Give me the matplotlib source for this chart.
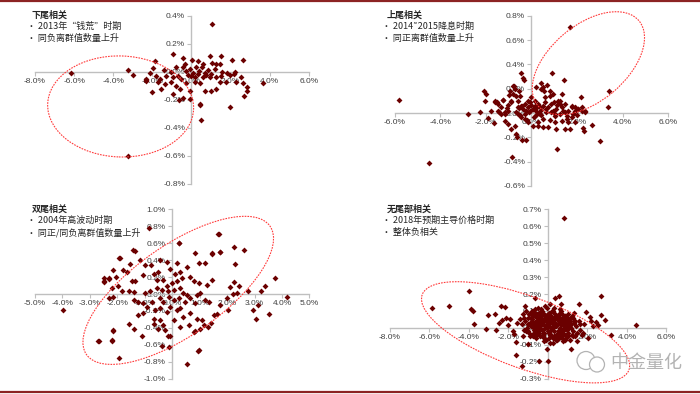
import matplotlib
matplotlib.use("Agg")
import matplotlib.pyplot as plt
import numpy as np
from matplotlib.patches import Ellipse, Circle
from matplotlib.lines import Line2D
from matplotlib.transforms import ScaledTranslation

plt.rcParams['font.family'] = ['Noto Sans CJK SC', 'DejaVu Sans']

# ---- data (daily returns, %) ----
# lower tail: 2013 "money crunch"
lower_x = [1.07, -6.17, -3.23, -3.0, -3.23, -2.33, -0.94, -0.43, -1.87, -0.34, 0.05, 0.34, 0.6, 0.94,
           1.07, 1.53, 1.45, 2.09, 2.64, 1.28, -1.96, -1.41, -1.02, -0.77, -0.43, -0.26, -0.09, 0.09,
           0.22, 0.39, 0.56, 0.68, 0.85, 1.02, 1.19, 1.58, 1.82, 2.21, -2.13, -2.3, -1.79, -1.62,
           -1.28, -0.94, -0.68, -0.51, -0.17, 0.0, 0.17, 0.34, 0.6, 0.77, 0.94, 1.28, 1.53, 1.99,
           2.18, 2.55, -2.33, -1.7, -1.53, -1.36, -1.02, -0.8, -0.6, -0.26, -0.09, 0.17, 0.43, 0.68,
           1.02, 1.28, 1.45, 1.75, 2.3, 2.64, 2.84, 2.84, -1.99, -0.94, -0.63, -0.43, -0.09, 0.43,
           2.67, 0.46, 2.0, 0.48, 3.66]
lower_y = [0.344, -0.01, 0.015, -0.02, -0.60, -0.055, 0.126, 0.102, 0.074, 0.055, 0.083, 0.078, 0.055, 0.114,
           0.066, 0.114, 0.055, 0.083, 0.083, 0.055, 0.026, 0.012, 0.0, 0.031, 0.031, 0.007, 0.019, -0.005,
           0.036, 0.007, 0.031, -0.005, 0.012, -0.012, 0.019, 0.002, -0.005, 0.0, -0.005, -0.052, -0.028, -0.052,
           -0.028, -0.04, -0.028, -0.052, -0.021, -0.028, -0.04, -0.017, -0.036, -0.021, -0.04, -0.036, -0.028, -0.021,
           -0.012, -0.036, -0.064, -0.071, -0.119, -0.088, -0.069, -0.10, -0.119, -0.083, -0.135, -0.069, -0.083, -0.135,
           -0.135, -0.123, -0.069, -0.071, -0.076, -0.083, -0.111, -0.135, -0.142, -0.159, -0.20, -0.187, -0.195, -0.23,
           -0.171, -0.235, -0.249, -0.342, -0.077]

# upper tail: 2014~2015 rate cuts
upper_x = [-5.81, -4.51, -2.78, -2.27, -2.08, -2.0, -2.05, -1.90, -1.64, -1.58, -1.51, -1.42, -1.35, -1.24,
           -1.17, -1.08, -1.0, -0.94, -0.88, -0.81, -0.73, -0.91, -0.85, -0.69, -0.63, -0.44, -0.37, -0.32,
           -0.56, -0.51, -0.40, -0.26, -0.19, -0.51, -0.66, -0.59, -0.40, -0.26, -0.15, -0.04, 0.07, 0.15,
           0.22, 0.29, 0.37, 0.44, 0.51, 0.54, 0.61, 0.70, 0.81, 0.92, 0.98, 1.05, 1.14, 1.14, 1.24, 1.32,
           1.43, 1.46, 1.54, 1.68, 1.71, 1.80, 1.90, 2.05, 2.17, 2.20, 2.34, 2.27, 2.31, 2.02, 2.66, 3.02,
           3.37, 3.41, -1.58, -1.46, -1.24, -1.02, -0.88, -0.81, -0.76, -0.66, -0.59, -0.44, -0.37, -0.29,
           -0.22, -0.15, -0.07, 0.0, 0.07, 0.15, 0.22, 0.29, 0.37, 0.44, 0.51, 0.59, 0.66, 0.73, 0.81, 0.88,
           0.95, 1.02, 1.10, 1.17, 1.24, 1.32, 1.39, 1.46, 1.54, 1.61, 1.76, 1.83, 1.90, 2.05, 2.20, 2.34,
           -1.49, -1.32, -1.17, -1.02, -1.76, -0.59, -0.44, -0.29, -0.15, 0.07, 0.29, 0.51, 0.81, 1.02,
           1.32, 1.61, 1.76, 1.90, 1.46, 1.10, 0.73, 0.51, -0.73, -1.02, -1.17, 1.24, 0.95, 0.44, 0.22,
           -0.10, 0.12, 0.35, -0.30, 0.62, 0.85, -0.55, 0.40, 0.18, -0.05]
upper_y = [0.11, -0.41, -0.01, 0.005, 0.18, 0.16, 0.10, -0.04, -0.08, 0.10, 0.09, 0.005, 0.05, 0.11,
           -0.01, 0.04, 0.15, 0.18, 0.10, 0.22, 0.20, -0.13, -0.36, -0.17, -0.20, 0.33, 0.29, 0.27,
           0.18, 0.14, -0.22, -0.22, -0.06, -0.02, 0.01, 0.05, 0.06, 0.02, 0.10, 0.07, 0.03, 0.10,
           -0.02, -0.11, 0.05, 0.25, 0.21, 0.18, 0.13, 0.23, 0.18, 0.33, 0.09, -0.01, 0.07, -0.30, 0.10, 0.16,
           0.27, 0.005, -0.05, -0.13, 0.71, 0.06, 0.05, 0.03, 0.13, 0.05, 0.02, -0.12, -0.15, -0.02, -0.10, -0.23,
           0.05, 0.18, 0.088, 0.074, 0.107, 0.068, 0.088, 0.156, 0.225, 0.142, 0.101, 0.06, 0.033, 0.074,
           0.019, 0.047, 0.088, 0.129, 0.033, 0.06, 0.019, 0.074, -0.008, 0.025, 0.06, 0.088, 0.005, 0.047, 0.142, 0.074,
           0.019, -0.022, 0.033, 0.101, -0.008, 0.047, 0.019, 0.074, -0.022, 0.019, 0.047, -0.008, 0.019, 0.033, 0.019, 0.005,
           0.019, -0.008, 0.005, 0.019, 0.019, -0.008, -0.036, -0.049, -0.077, -0.104, -0.077, -0.049, -0.058, -0.077,
           -0.063, -0.077, -0.036, -0.077, -0.132, -0.132, -0.118, -0.118, -0.104, -0.09, -0.063, 0.074, 0.156, 0.197, 0.211,
           0.01, -0.03, 0.0, -0.01, 0.03, 0.01, 0.04, -0.02, 0.04, 0.02]

# both tails: 2004 high volatility
both_x = [0.23, 1.69, -1.37, -1.90, -1.53, -1.19, -0.99, -0.78, -0.44, -0.19, 0.17, 0.84, 1.45, 1.75,
          0.96, 1.20, 0.54, -2.17, -1.78, -2.48, -2.32, -2.04, -1.65, -1.47, -1.35, -1.05, -0.68, -0.50,
          -0.54, -0.32, -0.07, 0.11, 0.29, 0.35, 0.66, 0.78, 0.96, 1.27, 1.45, -0.19, -0.01, 0.17,
          -0.17, 0.07, 0.29, 0.41, 0.54, 0.66, -0.38, -0.56, -0.80, -0.99, -1.41, -1.59, -1.84, -1.96,
          -2.20, -2.14, -2.32, -0.44, -0.32, -0.13, 0.05, 0.23, 0.47, 0.90, 1.02, 1.20, 0.84, 1.33,
          1.75, 2.0, -1.41, -1.23, -1.05, -0.92, -0.74, -0.62, -0.44, -0.07, 0.17, 0.29, 0.41, 0.66,
          0.90, 1.08, -1.05, -0.68, -0.44, -0.19, 0.05, -0.32, -0.50, -1.23, -1.59, -1.41, -1.11, -0.68,
          -0.26, 0.29, 0.60, 0.84, 1.02, 1.30, 1.51, -2.14, -2.69, -2.20, -0.07, -0.13, 0.96,
          -3.99, -2.65, -2.18, -1.95, -2.14, -0.86, -1.42, -1.93, -2.29, -2.49, 0.26, 1.68, 2.27, 2.60,
          1.74, 2.29, 1.44, 2.10, 2.27, 2.42, 2.35, 2.78, 2.23, 3.23, 3.38, 3.76, 4.17, 3.12, 2.96,
          3.05, 3.52, 2.02, 1.62, 0.95, 0.55, -0.38, -0.14, 0.81, 1.16, 1.40, -2.50]
both_y = [0.60, 0.71, 0.51, 0.42, 0.36, 0.40, 0.34, 0.34, 0.40, 0.38, 0.37, 0.48, 0.47, 0.50,
          0.37, 0.37, 0.32, 0.28, 0.28, 0.15, 0.19, 0.20, 0.26, 0.15, 0.15, 0.22, 0.24, 0.26,
          0.17, 0.17, 0.30, 0.24, 0.26, 0.19, 0.20, 0.15, 0.13, 0.11, 0.17, 0.09, 0.13, 0.15,
          0.03, 0.05, 0.07, 0.01, -0.01, -0.05, 0.05, 0.07, 0.03, 0.01, 0.02, 0.03, 0.03, 0.09,
          0.07, -0.03, -0.05, -0.05, -0.09, -0.03, -0.07, -0.05, -0.09, -0.01, 0.01, -0.07, -0.11, -0.09,
          -0.13, -0.05, -0.07, -0.09, -0.11, -0.15, -0.09, -0.19, -0.17, -0.15, -0.19, -0.17, -0.27, -0.23,
          -0.29, -0.31, -0.23, -0.29, -0.31, -0.21, -0.31, -0.37, -0.41, -0.25, -0.35, -0.41, -0.50, -0.35,
          -0.43, -0.39, -0.37, -0.44, -0.41, -0.39, -0.25, -0.43, -0.56, -0.54, -0.50, -0.62, -0.66,
          -0.19, -0.56, -0.56, -0.75, -0.44, 0.78, 0.52, 0.43, 0.18, 0.14, 0.60, 0.71, 0.56, 0.52,
          0.50, 0.35, 0.48, 0.08, 0.14, 0.10, 0.01, 0.04, 0.0, 0.04, 0.10, 0.19, -0.04, -0.13, -0.19,
          -0.30, -0.24, -0.19, -0.24, -0.67, -0.83, -0.61, -0.50, -0.45, -0.37, -0.34, 0.19]

# no tail: 2018 expectation driven
none_x = [-5.89, -5.01, -4.0, -3.87, -3.78, -3.73, -3.14, -3.02, -2.68, -2.65, -2.35, -2.18, -2.30, -2.01,
          -1.93, -1.71, -1.63, -1.64, -1.31, -1.14, -1.0, -0.95, -0.66, -0.46, -0.07, 0.01, 0.10, 0.35,
          0.57, 0.80, 0.64, 1.19, 1.58, 1.92, 2.12, 2.43, 2.71, 2.68, 2.88, 3.18, 4.48, 2.54,
          -1.40, -1.32, -1.25, -1.20, -1.15, -1.10, -1.05, -1.00, -0.95, -0.92, -0.88, -0.85, -0.80, -0.78,
          -0.75, -0.70, -0.68, -0.65, -0.62, -0.60, -0.57, -0.55, -0.52, -0.50, -0.48, -0.45, -0.42, -0.40,
          -0.38, -0.35, -0.33, -0.30, -0.28, -0.25, -0.22, -0.20, -0.18, -0.15, -0.12, -0.10, -0.08, -0.05,
          -0.03, 0.00, 0.02, 0.05, 0.07, 0.10, 0.12, 0.15, 0.18, 0.20, 0.23, 0.25, 0.28, 0.30, 0.33, 0.35,
          0.38, 0.40, 0.43, 0.45, 0.48, 0.50, 0.53, 0.55, 0.58, 0.60, 0.63, 0.65, 0.68, 0.70, 0.73, 0.75,
          0.78, 0.80, 0.83, 0.85, 0.88, 0.90, 0.93, 0.95, 0.98, 1.00, 1.03, 1.05, 1.10, 1.12, 1.15, 1.20,
          1.25, 1.28, 1.32, 1.38, 1.42, 1.48, 1.55, 1.60, 1.65, 1.72,
          -1.00, -0.90, -0.82, -0.72, -0.63, -0.53, -0.44, -0.36, -0.27, -0.16, -0.06, 0.04, 0.13, 0.22,
          0.31, 0.42, 0.52, 0.61, 0.71, 0.82, 0.92, 1.02, 1.18, 1.35, -0.58, -0.26, 0.08, 0.46, 0.88,
          -0.30, 0.15, 0.60, 1.08, -0.45, 0.32, 0.70, -0.85, 0.02, 1.45, 1.85, 2.05, 2.30, -1.55, -1.75,
          -2.10, -2.50, 0.50, 0.95, -0.20, 1.30, 2.20, 1.80, -1.25, 0.25]
none_y = [0.117, 0.129, 0.218, 0.109, 0.099, 0.021, -0.005, 0.074, 0.084, -0.015, 0.127, 0.123, 0.044, 0.015,
          0.054, -0.038, -0.083, -0.158, -0.227, 0.129, -0.093, 0.084, 0.178, -0.198, -0.123, -0.198, 0.143, 0.178,
          0.188, 0.651, 0.143, -0.123, 0.139, 0.094, 0.064, 0.035, 0.186, 0.078, 0.044, -0.04, 0.015, 0.015,
          0.05, 0.02, 0.08, -0.01, 0.04, 0.10, 0.00, 0.06, -0.03, 0.03, 0.09, 0.01, 0.05, -0.04,
          0.07, 0.02, -0.01, 0.11, 0.04, -0.06, 0.08, 0.00, 0.03, 0.06, -0.02, 0.09, 0.01, 0.05,
          -0.05, 0.03, 0.07, -0.01, 0.10, 0.02, 0.05, -0.03, 0.08, 0.00, 0.04, -0.07, 0.06, 0.02,
          0.12, -0.02, 0.05, 0.09, 0.01, -0.04, 0.03, 0.07, -0.01, 0.04, 0.10, -0.06, 0.02, 0.06, -0.02, 0.03,
          0.08, -0.04, 0.01, 0.05, -0.07, 0.02, 0.07, -0.03, 0.04, 0.00, 0.09, -0.05, 0.02, 0.06, -0.02, 0.03,
          -0.08, 0.05, 0.00, -0.04, 0.07, 0.02, -0.06, 0.04, -0.01, 0.08, -0.03, 0.03, -0.07, 0.05, 0.00, -0.04,
          0.06, -0.02, 0.03, -0.05, 0.01, -0.03, 0.04, -0.01, 0.02, -0.04,
          0.02, -0.05, 0.04, 0.00, 0.07, -0.01, 0.03, 0.06, -0.04, 0.01, 0.04, -0.03, 0.06, 0.00,
          -0.05, 0.02, -0.02, 0.05, -0.03, 0.01, 0.03, -0.05, 0.02, 0.04, -0.03, -0.05, -0.06, 0.07, -0.07,
          0.05, -0.04, 0.03, 0.01, 0.01, 0.05, -0.06, 0.06, 0.08, -0.08, 0.02, -0.06, 0.01, 0.03, -0.02,
          0.06, 0.03, -0.05, 0.06, -0.08, 0.09, 0.04, -0.03, -0.05, -0.09]
# the solid blob around the origin in the 2018 panel
none_core_x = [-1.2, -1.1, -0.95, -0.85, -0.75, -0.65, -0.55, -0.45, -0.35, -0.25, -0.15, -0.05, 0.05,
               0.15, 0.25, 0.35, 0.45, 0.55, 0.65, 0.75, 0.85, 0.95, 1.05, 1.15, 1.25,
               -1.0, -0.8, -0.6, -0.4, -0.2, 0.0, 0.2, 0.4, 0.6, 0.8, 1.0, 1.2,
               -0.5, -0.1, 0.3, 0.7, 1.1, -0.7, 0.1, 0.5, 0.9]
none_core_y = [0.06, -0.02, 0.08, 0.03, -0.05, 0.09, 0.01, -0.03, 0.11, 0.04, 0.13, 0.00, 0.08,
               -0.05, 0.10, 0.01, 0.06, -0.06, 0.10, 0.04, 0.07, 0.00, 0.05, 0.02, -0.05,
               -0.02, 0.10, -0.04, 0.00, -0.06, 0.05, 0.00, -0.07, 0.11, -0.01, 0.00, 0.07,
               0.12, 0.07, 0.12, 0.08, 0.04, -0.03, -0.09, 0.06, 0.05]

panels = [
    # axes position, x, y, x range/step, y range/step, ellipse (cx, cy, w in, h in, angle), note pos, notes
    ([0.05, 0.533, 0.391, 0.427], lower_x, lower_y, (-8, 6, 2), (-0.8, 0.4, 0.2),
     (-3.62, -0.247, 1.46, 1.01, -2), (27, 15),
     ["下尾相关", "• 2013年“钱荒”时期", "• 同负离群值数量上升"]),
    ([0.564, 0.528, 0.3904, 0.432], upper_x, upper_y, (-6, 6, 2), (-0.6, 0.8, 0.2),
     (2.5, 0.41, 1.32, 0.76, 40), (382, 15),
     ["上尾相关", "• 2014˜2015降息时期", "• 同正离群值数量上升"]),
    ([0.05, 0.0388, 0.392, 0.430], both_x, both_y, (-5, 5, 1), (-1.0, 1.0, 0.2),
     (0.22, 0.043, 2.24, 0.90, 35), (27, 209),
     ["双尾相关", "• 2004年高波动时期", "• 同正/同负离群值数量上升"]),
    ([0.557, 0.0388, 0.395, 0.430], none_x + none_core_x, none_y + none_core_y, (-8, 6, 2), (-0.3, 0.7, 0.1),
     (-1.13, -0.026, 2.20, 0.72, -20), (382, 209),
     ["无尾部相关", "• 2018年预期主导价格时期", "• 整体负相关"]),
]

W, H = 700, 394
fig = plt.figure(figsize=(7, 3.94), dpi=100)

for pos, xs, ys, xr, yr, ell, txt_pos, lines in panels:
    ax = fig.add_axes(pos)
    ax.set_facecolor('none')
    ax.plot(xs, ys, linestyle='none', marker='D', markersize=3.0,
            color='#6b0000', markeredgewidth=0, zorder=3)
    ax.set_xlim(xr[0], xr[1])
    ax.set_ylim(yr[0], yr[1])
    xt = np.arange(xr[0], xr[1] + xr[2] / 2, xr[2])
    yt = np.arange(yr[0], yr[1] + yr[2] / 2, yr[2])
    ax.set_xticks(xt)
    ax.set_yticks(yt)
    ax.set_xticklabels(["%.1f%%" % v for v in xt])
    ax.set_yticklabels(["%.1f%%" % (v + 0.0) for v in np.round(yt, 2)])
    for s in ['top', 'right']:
        ax.spines[s].set_visible(False)
    ax.spines['left'].set_position(('data', 0))
    ax.spines['bottom'].set_position(('data', 0))
    for s in ['left', 'bottom']:
        ax.spines[s].set_color('#bfbfbf')
        ax.spines[s].set_linewidth(1.0)
    ax.tick_params(direction='out', length=3, width=0.8, color='#bfbfbf',
                   labelsize=6, labelcolor='#404040', pad=1.5)
    for lab in ax.get_xticklabels() + ax.get_yticklabels():
        lab.set_family(['Liberation Sans', 'DejaVu Sans'])

    # dashed ellipse marking the tail area
    cx, cy, ew, eh, ang = ell
    tr = fig.dpi_scale_trans + ScaledTranslation(cx, cy, ax.transData)
    e = Ellipse((0, 0), ew, eh, angle=ang, transform=tr, fill=False,
                edgecolor='#ff3b3b', linewidth=0.8, linestyle=(0, (1.5, 1)),
                clip_on=False, zorder=4)
    ax.add_patch(e)

    # notes
    tx, ty = txt_pos
    fig.text((tx + 5) / W, 1 - ty / H, lines[0], fontsize=6.5, fontweight='bold',
             va='center', ha='left', color='#262626')
    for i, l in enumerate(lines[1:]):
        fig.text(tx / W, 1 - (ty + 11.7 * (i + 1)) / H, l, fontsize=6.5,
                 va='center', ha='left', color='#262626')

# frame lines
fig.add_artist(Line2D([0, 1], [1 - 1.2 / H, 1 - 1.2 / H], color='#8c2323', linewidth=1.6))
fig.add_artist(Line2D([0, 1], [1.8 / H, 1.8 / H], color='#8c2323', linewidth=1.6))

# watermark
fig.text(610 / W, 1 - 363 / H, "中金量化", fontsize=13, color='#b3b3b3',
         va='center', ha='left')
fig.add_artist(Circle((5.86, 0.335), 0.09, transform=fig.dpi_scale_trans,
                      fill=False, edgecolor='#b3b3b3', linewidth=0.9))
fig.add_artist(Circle((5.97, 0.295), 0.075, transform=fig.dpi_scale_trans,
                      facecolor='white', edgecolor='#b3b3b3', linewidth=0.9))

fig.savefig('out.png', dpi=100)
